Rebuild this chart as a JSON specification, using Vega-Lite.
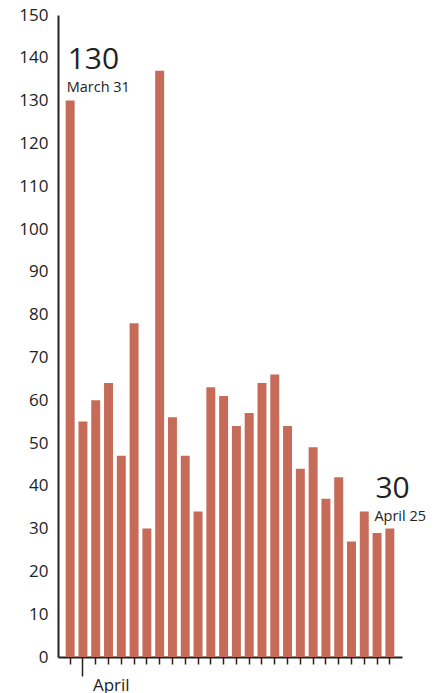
{
  "$schema": "https://vega.github.io/schema/vega-lite/v6.json",
  "width": 344,
  "height": 642,
  "autosize": {"type": "none"},
  "padding": {"left": 58, "top": 15, "right": 39, "bottom": 36},
  "background": "white",
  "config": {"view": {"stroke": null}, "font": "Open Sans"},
  "data": {
    "values": [
      {"date": "Mar 31", "full": "March 31", "cases": 130},
      {"date": "Apr 1", "full": "April 1", "cases": 55},
      {"date": "Apr 2", "full": "April 2", "cases": 60},
      {"date": "Apr 3", "full": "April 3", "cases": 64},
      {"date": "Apr 4", "full": "April 4", "cases": 47},
      {"date": "Apr 5", "full": "April 5", "cases": 78},
      {"date": "Apr 6", "full": "April 6", "cases": 30},
      {"date": "Apr 7", "full": "April 7", "cases": 137},
      {"date": "Apr 8", "full": "April 8", "cases": 56},
      {"date": "Apr 9", "full": "April 9", "cases": 47},
      {"date": "Apr 10", "full": "April 10", "cases": 34},
      {"date": "Apr 11", "full": "April 11", "cases": 63},
      {"date": "Apr 12", "full": "April 12", "cases": 61},
      {"date": "Apr 13", "full": "April 13", "cases": 54},
      {"date": "Apr 14", "full": "April 14", "cases": 57},
      {"date": "Apr 15", "full": "April 15", "cases": 64},
      {"date": "Apr 16", "full": "April 16", "cases": 66},
      {"date": "Apr 17", "full": "April 17", "cases": 54},
      {"date": "Apr 18", "full": "April 18", "cases": 44},
      {"date": "Apr 19", "full": "April 19", "cases": 49},
      {"date": "Apr 20", "full": "April 20", "cases": 37},
      {"date": "Apr 21", "full": "April 21", "cases": 42},
      {"date": "Apr 22", "full": "April 22", "cases": 27},
      {"date": "Apr 23", "full": "April 23", "cases": 34},
      {"date": "Apr 24", "full": "April 24", "cases": 29},
      {"date": "Apr 25", "full": "April 25", "cases": 30}
    ]
  },
  "layer": [
    {
      "mark": {"type": "bar", "color": "#c66b58"},
      "encoding": {
        "x": {
          "field": "date",
          "type": "ordinal",
          "sort": null,
          "scale": {"paddingInner": 0.3, "paddingOuter": 0.6},
          "axis": {
            "title": null,
            "labelExpr": "datum.value == 'Apr 1' ? 'April' : ''",
            "labelAlign": "left",
            "labelBaseline": "top",
            "labelAngle": 0,
            "labelOffset": 10,
            "labelPadding": 1,
            "labelFontSize": 17,
            "labelColor": "#222",
            "labelOverlap": false,
            "tickColor": "#222",
            "tickWidth": 1.5,
            "tickSize": {"condition": {"test": "datum.value == 'Apr 1'", "value": 19}, "value": 7},
            "domainColor": "#222",
            "domainWidth": 2
          }
        },
        "y": {
          "field": "cases",
          "type": "quantitative",
          "scale": {"domain": [0, 150], "nice": false},
          "axis": {
            "title": null,
            "values": [0, 10, 20, 30, 40, 50, 60, 70, 80, 90, 100, 110, 120, 130, 140, 150],
            "ticks": false,
            "grid": false,
            "labelFontSize": 17,
            "labelColor": "#222",
            "labelPadding": 10,
            "domainColor": "#222",
            "domainWidth": 2
          }
        }
      }
    },
    {
      "transform": [{"filter": "datum.date == 'Mar 31'"}],
      "mark": {"type": "text", "align": "left", "baseline": "alphabetic", "dx": 2, "dy": -32, "fontSize": 30, "color": "#222"},
      "encoding": {
        "x": {"field": "date", "type": "ordinal", "sort": null, "bandPosition": 0},
        "y": {"field": "cases", "type": "quantitative"},
        "text": {"field": "cases", "type": "quantitative"}
      }
    },
    {
      "transform": [{"filter": "datum.date == 'Mar 31'"}],
      "mark": {"type": "text", "align": "left", "baseline": "alphabetic", "dx": 1, "dy": -9, "fontSize": 14.5, "color": "#222"},
      "encoding": {
        "x": {"field": "date", "type": "ordinal", "sort": null, "bandPosition": 0},
        "y": {"field": "cases", "type": "quantitative"},
        "text": {"field": "full", "type": "nominal"}
      }
    },
    {
      "transform": [{"filter": "datum.date == 'Apr 25'"}],
      "mark": {"type": "text", "align": "left", "baseline": "alphabetic", "dx": -10, "dy": -31, "fontSize": 30, "color": "#222"},
      "encoding": {
        "x": {"field": "date", "type": "ordinal", "sort": null, "bandPosition": 0},
        "y": {"field": "cases", "type": "quantitative"},
        "text": {"field": "cases", "type": "quantitative"}
      }
    },
    {
      "transform": [{"filter": "datum.date == 'Apr 25'"}],
      "mark": {"type": "text", "align": "left", "baseline": "alphabetic", "dx": -11, "dy": -8, "fontSize": 14.5, "color": "#222"},
      "encoding": {
        "x": {"field": "date", "type": "ordinal", "sort": null, "bandPosition": 0},
        "y": {"field": "cases", "type": "quantitative"},
        "text": {"field": "full", "type": "nominal"}
      }
    }
  ]
}
